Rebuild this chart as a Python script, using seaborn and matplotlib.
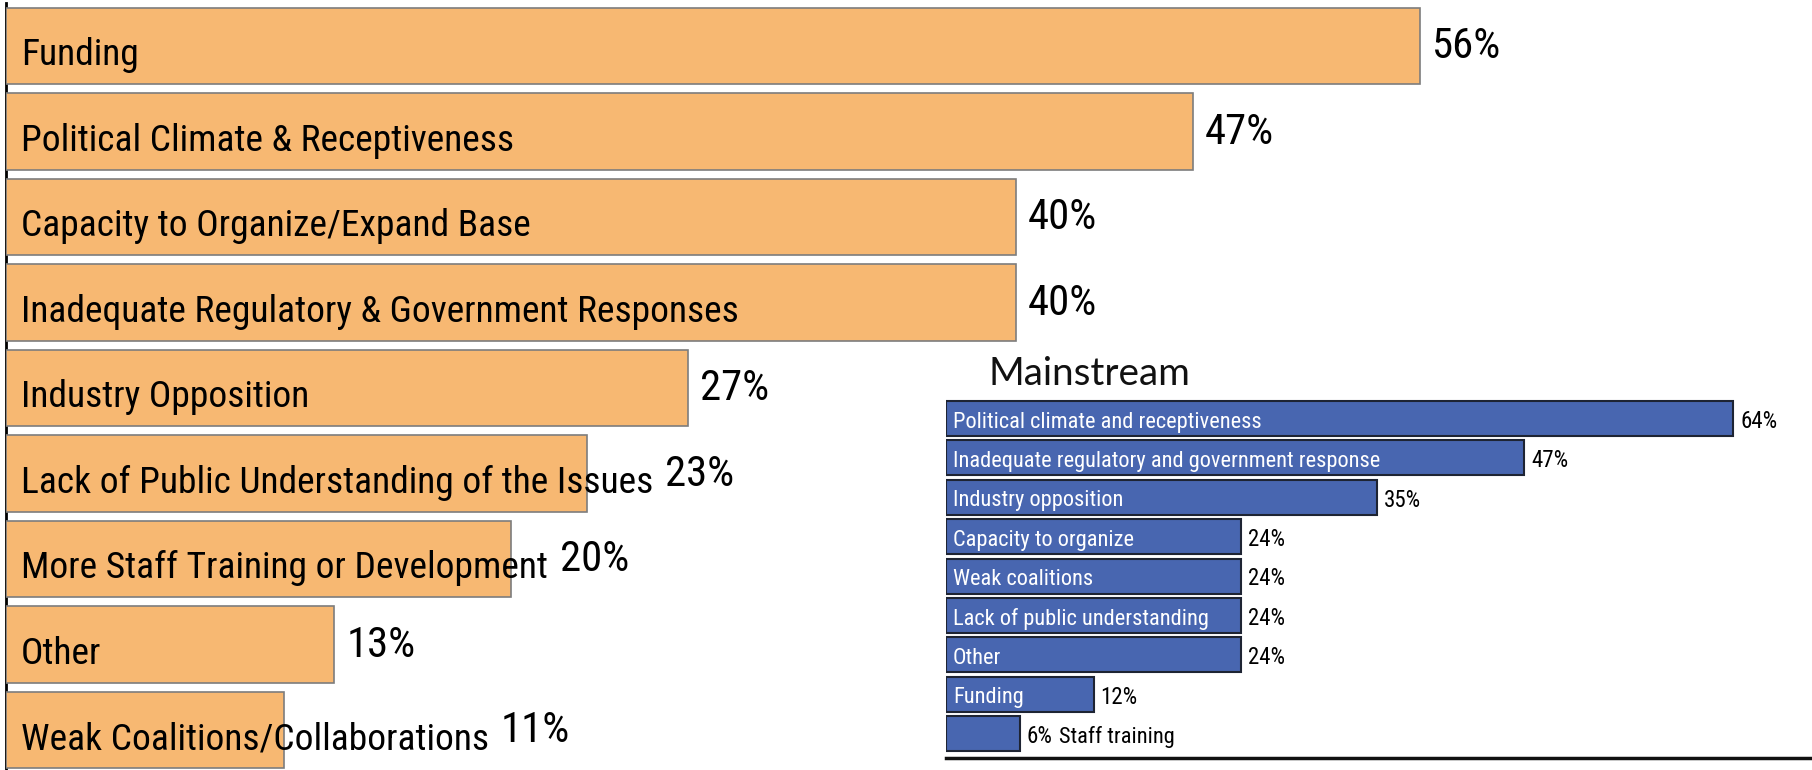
import matplotlib
matplotlib.use("Agg")
import numpy as np
import pandas as pd
import seaborn as sns
import matplotlib.pyplot as plt
from matplotlib import font_manager as fm

# ---------------- data ----------------
orange_categories = [
    "Funding",
    "Political Climate & Receptiveness",
    "Capacity to Organize/Expand Base",
    "Inadequate Regulatory & Government Responses",
    "Industry Opposition",
    "Lack of Public Understanding of the Issues",
    "More Staff Training or Development",
    "Other",
    "Weak Coalitions/Collaborations",
]
orange_values = [56, 47, 40, 40, 27, 23, 20, 13, 11]

blue_title = "Mainstream"
blue_categories = [
    "Political climate and receptiveness",
    "Inadequate regulatory and government response",
    "Industry opposition",
    "Capacity to organize",
    "Weak coalitions",
    "Lack of public understanding",
    "Other",
    "Funding",
    "Staff training",
]
blue_values = [64, 47, 35, 24, 24, 24, 24, 12, 6]

# ---------------- style ----------------
ORANGE = "#F7B872"
BLUE = "#4866B0"

sns.set_theme(style="white")
avail = {f.name for f in fm.fontManager.ttflist}


def pick(*names):
    for n in names:
        if n in avail:
            return n
    return "DejaVu Sans"


def has_regular(name):
    for f in fm.fontManager.ttflist:
        if f.name != name:
            continue
        w = f.weight
        if isinstance(w, str):
            w = fm.weight_dict.get(w.lower(), 400)
        if 380 <= int(w) <= 520 and f.style == "normal":
            return True
    return False


NARROW = pick("Liberation Sans Narrow", "Roboto Condensed", "Open Sans Condensed",
              "Noto Sans Condensed", "DejaVu Sans Condensed", "Liberation Sans")
TITLE_FONT = "Raleway" if has_regular("Raleway") else pick("Lato", "Open Sans")
FAM = [NARROW, "DejaVu Sans"]
plt.rcParams["font.family"] = FAM

W, H, DPI = 1812, 770, 100
fig = plt.figure(figsize=(W / DPI, H / DPI), dpi=DPI)
fig.patch.set_facecolor("white")
renderer = fig.canvas.get_renderer()


def px_box(l, t, r, b):
    return [l / W, 1 - b / H, (r - l) / W, (b - t) / H]


def fit_size(s, family, target_px, base=20.0, weight="normal"):
    t = fig.text(0, 0, s, fontsize=base, family=family, fontweight=weight)
    w = t.get_window_extent(renderer).width
    t.remove()
    return base * target_px / w


def pt2px(pt):
    return pt * DPI / 72.0


# ---------------- orange (left, large) chart ----------------
ax1 = fig.add_axes(px_box(6, 3.25, W, 772.75))
df1 = pd.DataFrame({"category": orange_categories, "value": orange_values})
sns.barplot(data=df1, x="value", y="category", orient="h", color=ORANGE,
            saturation=1, width=0.89, edgecolor="#7d7d7d", linewidth=1.2, ax=ax1)
ax1.set_xlim(0, (W - 6) / 25.25)
ax1.set_ylim(len(orange_categories) - 0.5, -0.5)
ax1.set_facecolor("none")
ax1.set_xticks([]); ax1.set_yticks([])
ax1.set_xlabel(""); ax1.set_ylabel("")
for s in ["top", "right", "bottom"]:
    ax1.spines[s].set_visible(False)
ax1.spines["left"].set_color("black")
ax1.spines["left"].set_linewidth(2)
ax1.spines["left"].set_zorder(0)

fs_cat1 = 0.5 * (fit_size("Inadequate Regulatory & Government Responses", FAM, 728)
                 + fit_size("Lack of Public Understanding of the Issues", FAM, 622))
fs_val1 = fit_size("56%", FAM, 69)
cap_cat1 = 0.72 * pt2px(fs_cat1)
cap_val1 = 0.72 * pt2px(fs_val1)

for i, (cat, v) in enumerate(zip(orange_categories, orange_values)):
    t = ax1.annotate(cat, xy=(0, i), xytext=(15, -(cap_cat1 / 2 + 6)),
                     textcoords="offset pixels", ha="left", va="baseline",
                     fontsize=fs_cat1, color="black")
    text_end = t.get_window_extent(renderer).x1
    bar_end = ax1.transData.transform((v, i))[0]
    off = max(bar_end, text_end) - bar_end + 12
    ax1.annotate(f"{v}%", xy=(v, i), xytext=(off, -(cap_val1 / 2 - 3)),
                 textcoords="offset pixels", ha="left", va="baseline",
                 fontsize=fs_val1, color="black")

# ---------------- blue (inset) chart ----------------
ax2 = fig.add_axes(px_box(946, 398.8, W, 758))
df2 = pd.DataFrame({"category": blue_categories, "value": blue_values})
sns.barplot(data=df2, x="value", y="category", orient="h", color=BLUE,
            saturation=1, width=0.89, edgecolor="#1e2433", linewidth=1.5, ax=ax2)
ax2.set_xlim(0, (W - 946) / 12.3)
ax2.set_ylim(8.617, -0.5)
ax2.set_facecolor("none")
ax2.set_xticks([]); ax2.set_yticks([])
ax2.set_xlabel(""); ax2.set_ylabel("")
for s in ["top", "right", "left"]:
    ax2.spines[s].set_visible(False)
ax2.spines["bottom"].set_color("#111111")
ax2.spines["bottom"].set_linewidth(2.5)

fs_cat2 = 0.5 * (fit_size("Inadequate regulatory and government response", FAM, 433)
                 + fit_size("Political climate and receptiveness", FAM, 302))
fs_val2 = fit_size("64%", FAM, 37)
cap_cat2 = 0.72 * pt2px(fs_cat2)
cap_val2 = 0.72 * pt2px(fs_val2)

for i, (cat, v) in enumerate(zip(blue_categories, blue_values)):
    bar_px = ax2.transData.transform((v, i))[0] - ax2.transData.transform((0, i))[0]
    vt = ax2.annotate(f"{v}%", xy=(v, i), xytext=(7, -(cap_val2 / 2 + 1)),
                      textcoords="offset pixels", ha="left", va="baseline",
                      fontsize=fs_val2, color="black")
    probe = fig.text(0, 0, cat, fontsize=fs_cat2, family=FAM)
    w = probe.get_window_extent(renderer).width
    probe.remove()
    if w + 12 <= bar_px:
        ax2.annotate(cat, xy=(0, i), xytext=(7, -(cap_cat2 / 2 + 1)),
                     textcoords="offset pixels", ha="left", va="baseline",
                     fontsize=fs_cat2, color="white")
    else:
        val_end = vt.get_window_extent(renderer).x1
        bar_end = ax2.transData.transform((v, i))[0]
        ax2.annotate(cat, xy=(v, i), xytext=(val_end - bar_end + 6, -(cap_cat2 / 2 + 1)),
                     textcoords="offset pixels", ha="left", va="baseline",
                     fontsize=fs_cat2, color="black")

fs_title = fit_size(blue_title, [TITLE_FONT], 202)
ax2.annotate(blue_title, xy=(0, 1), xycoords="axes fraction",
             xytext=(42, 14), textcoords="offset pixels",
             ha="left", va="baseline", fontsize=fs_title,
             family=[TITLE_FONT], fontweight="normal", color="#111111")

fig.savefig("out.png", dpi=DPI, facecolor="white")
